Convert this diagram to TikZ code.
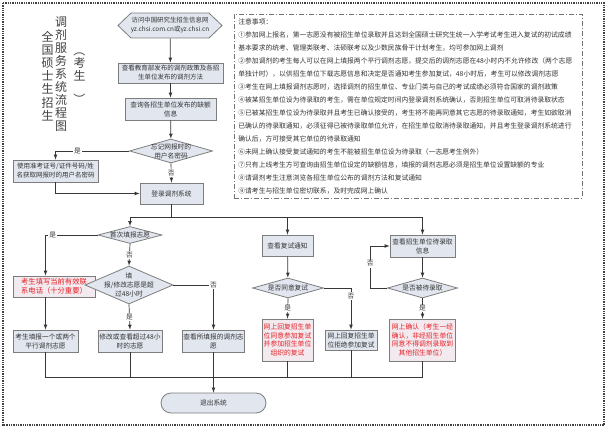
\documentclass[tikz,border=0pt]{standalone}
\usepackage{fontspec}
\setmainfont{Noto Sans CJK SC}
\usetikzlibrary{arrows}
\usetikzlibrary{positioning}
\usetikzlibrary{shapes.geometric}
\definecolor{boxfill}{RGB}{225,230,239}
\definecolor{redfill}{RGB}{243,234,240}
\definecolor{boxline}{RGB}{125,125,125}
\definecolor{redtext}{RGB}{228,32,36}
\definecolor{wirecol}{RGB}{55,55,55}
\tikzset{box/.style = {draw = boxline, fill = boxfill, line width = 0.8pt, inner sep = 1pt, align = center, text = black!80, font = \fontsize{6.7}{9}\selectfont}}
\tikzset{redbox/.style = {box, fill = redfill, text = redtext}}
\tikzset{dmd/.style = {diamond, draw = boxline, fill = boxfill, line width = 0.8pt, inner sep = 0}}
\tikzset{dtext/.style = {align = center, inner sep = 0, text = black!80, font = \fontsize{6.7}{9}\selectfont}}
\tikzset{lbl/.style = {fill = white, inner sep = 1pt, text = black!80, font = \fontsize{6.7}{8}\selectfont}}
\tikzset{wire/.style = {draw = wirecol, line width = 0.7pt}}
\tikzset{arr/.style = {wire, -latex}}
\tikzset{title/.style = {align = center, inner sep = 0, text = black!75, font = \fontsize{12}{13.1}\selectfont}}
\tikzset{notes/.style = {draw = black!55, line width = 0.7pt, dash pattern = on 5pt off 2pt on 1pt off 2pt, align = left, inner xsep = 4pt, inner ysep = 3pt, text = black!80, font = \fontsize{6.8}{13}\selectfont}}

\begin{document}
\begin{tikzpicture}[x = 1pt, y = -1pt]
    \useasboundingbox (0, 0) rectangle (607, 428);
    \draw [densely dotted, line width = 1.3pt, black!75] (3, 3) rectangle (604, 425);

    % title
    \node [title] (titlea) at (47.5, 76) {全\\国\\硕\\士\\生\\招\\生};
    \node [title] (titleb) at (61, 74) {调\\剂\\服\\务\\系\\统\\流\\程\\图};
    \node [title] (titlec) at (79.5, 75) {\rotatebox{-90}{（}\\考\\生\\\rotatebox{-90}{）}};

    % notes
    \node [notes, anchor = north west, text width = 340pt, minimum height = 184] (notes) at (234, 14) {注意事项：\\
      ①参加网上报名，第一志愿没有被招生单位录取并且达到全国硕士研究生统一入学考试考生进入复试的初试成绩\\
      基本要求的统考、管理类联考、法硕联考以及少数民族骨干计划考生，均可参加网上调剂\\
      ②参加调剂的考生每人可以在网上填报两个平行调剂志愿，提交后的调剂志愿在48小时内不允许修改（两个志愿\\
      单独计时），以供招生单位下载志愿信息和决定是否通知考生参加复试，48小时后，考生可以修改调剂志愿\\
      ③考生在网上填报调剂志愿时，选择调剂的招生单位、专业门类与自己的考试成绩必须符合国家的调剂政策\\
      ④被某招生单位设为待录取的考生，需在单位规定时间内登录调剂系统确认，否则招生单位可取消待录取状态\\
      ⑤已被某招生单位设为待录取并且考生已确认接受的，考生将不能再同意其它志愿的待录取通知，考生如欲取消\\
      已确认的待录取通知，必须征得已被待录取单位允许，在招生单位取消待录取通知，并且考生登录调剂系统进行\\
      确认后，方可接受其它单位的待录取通知\\
      ⑥未网上确认接受复试通知的考生不能被招生单位设为待录取（一志愿考生例外）\\
      ⑦只有上线考生方可查询由招生单位设定的缺额信息，填报的调剂志愿必须是招生单位设置缺额的专业\\
      ⑧请调剂考生注意浏览各招生单位公布的调剂方法和复试通知\\
      ⑨请考生与招生单位密切联系，及时完成网上确认};

    % left column
    \draw [draw = boxline, fill = boxfill, line width = 0.8pt] (118, 25.5) -- (131, 13) -- (209, 13) -- (222, 25.5) -- (209, 38) -- (131, 38) -- cycle;
    \node [dtext, font = \fontsize{6.4}{9}\selectfont, minimum width = 104, minimum height = 25] (web) at (170, 25.5) {访问中国研究生招生信息网\\yz.chsi.com.cn或yz.chsi.cn};
    \node [box, font = \fontsize{6.5}{9}\selectfont, minimum width = 105, minimum height = 20] (policy) at (170.5, 73) {查看教育部发布的调剂政策及各招\\生单位发布的调剂方法};
    \node [box, minimum width = 91, minimum height = 22] (vacancy) at (170.5, 109) {查询各招生单位发布的缺额\\信息};
    \node [dmd, minimum width = 83, minimum height = 24, label = {[dtext]center:{忘记网报时的\\用户名密码}}] (forgot) at (171, 151) {};
    \node [box, font = \fontsize{6.5}{9}\selectfont, minimum width = 85, minimum height = 22] (getpw) at (55.5, 171) {使用准考证号/证件号码/姓\\名获取网报时的用户名密码};
    \node [box, minimum width = 63, minimum height = 21] (login) at (171.5, 193.5) {登录调剂系统};

    \node [dmd, minimum width = 64, minimum height = 17, label = {[dtext]center:首次填报志愿}] (first) at (130, 235) {};
    \node [redbox, font = \fontsize{7.3}{9.5}\selectfont, minimum width = 82, minimum height = 21] (phone) at (54, 286.5) {考生填写当前有效联\\系电话（十分重要）};
    \node [dmd, minimum width = 88, minimum height = 38, label = {[dtext]center:{填\\报/修改志愿是超\\过48小时}}] (over48) at (129, 285) {};
    \node [box, minimum width = 65, minimum height = 22] (fill2) at (45.5, 341) {考生填报一个或两个\\平行调剂志愿};
    \node [box, minimum width = 64, minimum height = 22] (modify) at (130, 341) {修改或查看超过48小\\时的志愿};
    \node [box, minimum width = 61, minimum height = 22] (viewfill) at (213.5, 341) {查看所填报的调剂志\\愿};
    \node [box, rounded corners = 10pt, minimum width = 105, minimum height = 20] (exit) at (213.5, 403) {退出系统};

    % middle and right columns
    \node [box, minimum width = 51, minimum height = 21] (retest) at (287.5, 245.5) {查看复试通知};
    \node [dmd, minimum width = 71, minimum height = 20, label = {[dtext]center:是否同意复试}] (agree) at (288, 288) {};
    \node [redbox, font = \fontsize{6.8}{8.6}\selectfont, minimum width = 51, minimum height = 42] (accept) at (287.5, 340) {网上回复招生单\\位同意参加复试\\并参加招生单位\\组织的复试};
    \node [box, minimum width = 52, minimum height = 20] (refuse) at (351, 340) {网上回复招生单\\位拒绝参加复试};
    \node [box, minimum width = 65, minimum height = 22] (admit) at (422.5, 246) {查看招生单位待录取\\信息};
    \node [dmd, minimum width = 70, minimum height = 20, label = {[dtext]center:是否被待录取}] (waitlist) at (422.5, 288) {};
    \node [redbox, font = \fontsize{6.8}{8.6}\selectfont, minimum width = 66, minimum height = 42] (confirm) at (422.5, 340) {网上确认（考生一经\\确认，非经招生单位\\同意不得调剂录取到\\其他招生单位）};

    \coordinate (split) at (171.5, 217);
    \coordinate (merge) at (213.5, 377);

    \draw [arr] (web) -- (policy);
    \draw [arr] (policy) -- (vacancy);
    \draw [arr] (vacancy) -- (forgot);
    \draw [arr] (forgot.west) -| node [lbl, pos = 0.35] {是} (getpw.north);
    \draw [arr] (forgot.south) -- node [lbl] {否} (login.north);
    \draw [arr] (getpw.south) |- (login.west);

    \draw [wire] (login.south) -- (split);
    \draw [arr] (split) -| (first.north);
    \draw [arr] (split) -| (retest.north);
    \draw [arr] (split) -| (admit.north);

    \draw [arr] (first.west) -| node [lbl, pos = 0.43] {是} (fill2.north |- phone.north);
    \draw [arr] (fill2.north |- phone.south) -- (fill2.north);
    \draw [arr] (first.south) -- node [lbl] {否} (over48.north);
    \draw [arr] (over48.south) -- node [lbl] {是} (modify.north);
    \draw [arr] (over48.east) -| node [lbl] {否} (viewfill.north);

    \draw [arr] (retest) -- (agree);
    \draw [arr] (agree.south) -- node [lbl] {是} (accept.north);
    \draw [arr] (agree.east) -| node [lbl, pos = 0.6] {否} (refuse.north);

    \draw [arr] (admit) -- (waitlist);
    \draw [arr] (waitlist.west) -- ++(-17, 0) |- node [lbl, pos = 0.29] {否} (admit.west);
    \draw [arr] (waitlist.south) -- node [lbl] {是} (confirm.north);

    \draw [wire] (fill2.south) |- (merge);
    \draw [wire] (modify.south) |- (merge);
    \draw [wire] (accept.south) |- (merge);
    \draw [wire] (refuse.south) |- (merge);
    \draw [wire] (confirm.south) |- (merge);
    \draw [arr] (viewfill) -- (exit);
  \end{tikzpicture}
\end{document}
